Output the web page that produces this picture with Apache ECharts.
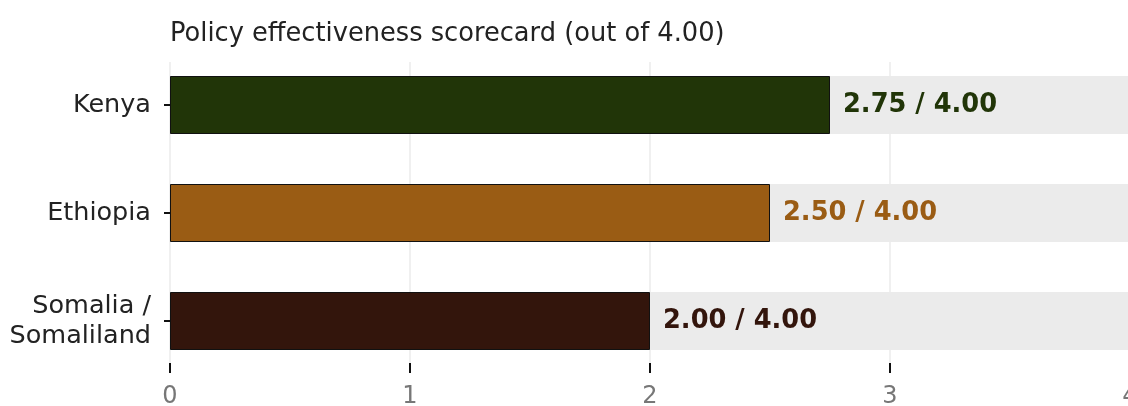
<!DOCTYPE html>
<html>
<head>
<meta charset="utf-8">
<script src="https://cdn.jsdelivr.net/npm/echarts@6/dist/echarts.min.js"></script>
<style>
html,body{margin:0;padding:0;background:#fff;}
#chart{width:1128px;height:406px;}
</style>
</head>
<body>
<div id="chart"></div>
<script>
const categories = ['Kenya', 'Ethiopia', 'Somalia /\nSomaliland'];
const scores = [2.75, 2.50, 2.00];
const maxScore = 4.00;
const barColors = ['#213508', '#9a5c14', '#33150c'];
const xTicks = [0, 1, 2, 3, 4];
const titleText = 'Policy effectiveness scorecard (out of 4.00)';

const FONT = 'DejaVu Sans';
const chart = echarts.init(document.getElementById('chart'), null, {renderer: 'canvas'});

const option = {
  animation: false,
  backgroundColor: '#ffffff',
  title: {
    text: titleText,
    left: 165,
    top: 16,
    textStyle: {fontFamily: FONT, fontSize: 25.7, fontWeight: 'normal', color: '#222222'}
  },
  grid: [
    {left: 170, right: -2, top: 62, bottom: 43, outerBoundsMode: 'none', containLabel: false},
    {left: 170, right: -2, top: 51, bottom: 31, outerBoundsMode: 'none', containLabel: false}
  ],
  xAxis: [
    {
      gridIndex: 0, type: 'value', min: xTicks[0], max: xTicks[xTicks.length - 1], interval: 1,
      axisLine: {show: false},
      axisTick: {show: true, length: 10, lineStyle: {color: '#111', width: 2}},
      splitLine: {show: true, lineStyle: {color: '#ebebeb', width: 1.5}},
      axisLabel: {fontFamily: FONT, fontSize: 24, color: '#777777', margin: 22}
    },
    {
      gridIndex: 1, type: 'value', min: 0, max: maxScore, show: false
    }
  ],
  yAxis: [
    {gridIndex: 0, type: 'value', show: false},
    {
      gridIndex: 1, type: 'category', data: categories, inverse: true, offset: 4,
      axisLine: {show: false},
      axisTick: {show: true, alignWithLabel: true, length: 6, lineStyle: {color: '#111', width: 2}},
      axisLabel: {fontFamily: FONT, fontSize: 25.5, color: '#222222', margin: 15, lineHeight: 30, align: 'right'}
    }
  ],
  series: [
    {
      type: 'bar',
      xAxisIndex: 1, yAxisIndex: 1,
      barWidth: 58,
      showBackground: true,
      backgroundStyle: {color: '#ebebeb'},
      data: scores.map((v, i) => ({
        value: v,
        itemStyle: {color: barColors[i], borderColor: '#111111', borderWidth: 1},
        label: {color: barColors[i]}
      })),
      label: {
        show: true,
        position: 'right',
        distance: 13,
        fontFamily: FONT,
        fontSize: 25.7,
        fontWeight: 'bold',
        formatter: p => p.value.toFixed(2) + ' / ' + maxScore.toFixed(2)
      }
    }
  ]
};
chart.setOption(option);
</script>
</body>
</html>
